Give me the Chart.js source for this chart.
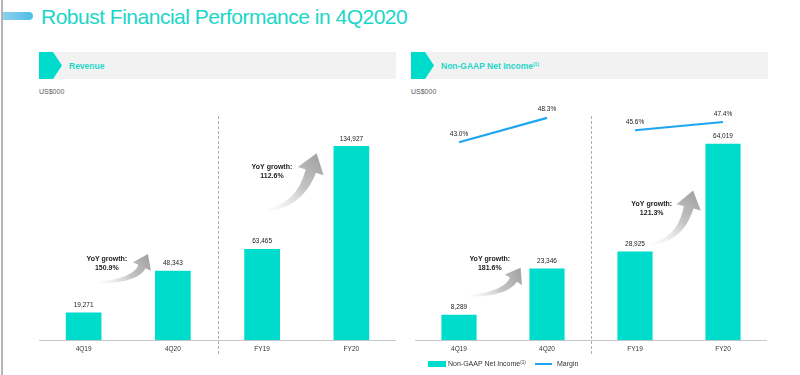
<!DOCTYPE html>
<html>
<head>
<meta charset="utf-8">
<script src="https://cdn.jsdelivr.net/npm/chart.js@4.4.1/dist/chart.umd.min.js"></script>
<style>
  body { margin: 0; width: 800px; height: 375px; background: #fff; overflow: hidden; position: relative;
         font-family: Arial, "Liberation Sans", sans-serif; }
  .abs { position: absolute; }
  .edge { left: 1px; top: 0; width: 2px; height: 375px; background: #b4b4b4; }
  .accent { left: 3px; top: 12px; width: 30px; height: 8px; border-radius: 0 4px 4px 0;
            background: linear-gradient(90deg, #8ed0ef, #4dbde9); }
  .title { left: 41px; top: 6px; font-size: 21px; letter-spacing: -0.5px; line-height: 1; color: #1bd6c8; white-space: nowrap; }
  .band { top: 52px; height: 27px; background: #f2f2f2; }
  .chev { top: 52px; width: 23px; height: 27px; background: #00dccb;
          clip-path: polygon(0 0, 61% 0, 100% 50%, 61% 100%, 0 100%); }
  .head { top: 62px; font-size: 8.5px; line-height: 1; font-weight: bold; color: #1fd6c8; white-space: nowrap; }
  .head sup { font-size: 5px; vertical-align: 3px; }
  .unit { top: 88px; font-size: 7px; line-height: 1; color: #595959; }
  .legend { top: 360px; font-size: 7px; line-height: 1; color: #333; white-space: nowrap; }
  .legend sup { font-size: 4.5px; vertical-align: 2px; }
  canvas { position: absolute; }
</style>
</head>
<body>
<div class="abs edge"></div>
<div class="abs accent"></div>
<div class="abs title">Robust Financial Performance in 4Q2020</div>

<div class="abs band" style="left:39px;width:357px"></div>
<div class="abs chev" style="left:39px"></div>
<div class="abs head" style="left:69px">Revenue</div>
<div class="abs unit" style="left:39px">US$000</div>

<div class="abs band" style="left:411px;width:357px"></div>
<div class="abs chev" style="left:411px"></div>
<div class="abs head" style="left:441px">Non-GAAP Net Income<sup>(1)</sup></div>
<div class="abs unit" style="left:411px">US$000</div>

<canvas id="revenueChart" width="357" height="275" style="left:39px;top:100px"></canvas>
<canvas id="incomeChart" width="352" height="275" style="left:415px;top:100px"></canvas>

<div class="abs" style="left:428px;top:361px;width:18px;height:6px;background:#00dccb"></div>
<div class="abs legend" style="left:448px">Non-GAAP Net Income<sup>(1)</sup></div>
<div class="abs" style="left:535px;top:363px;width:17px;height:2px;background:#1ea5f2"></div>
<div class="abs legend" style="left:557px">Margin</div>

<script>
// data
const categories = ["4Q19", "4Q20", "FY19", "FY20"];
const revenue = [19271, 48343, 63465, 134927];
const netIncome = [8289, 23346, 28925, 64019];
const margin = [43.0, 48.3, 45.6, 47.4];
const revenueGrowth = ["150.9%", "112.6%"];
const incomeGrowth = ["181.6%", "121.3%"];

const teal = "#00dccb";
const blue = "#1ea5f2";
Chart.defaults.font.family = 'Arial, "Liberation Sans", sans-serif';

// growth arrows, in (category index, value) units: tail, bend, tip, text anchor
const revenueArrows = [
    { tail: [0.16, 40000], bend: [0.58, 41500], tip: [0.72, 60000], text: [0.26, 56500], size: 1, label: revenueGrowth[0] },
    { tail: [2.03, 90000], bend: [2.42, 93500], tip: [2.61, 130000], text: [2.11, 120000], size: 1.35, label: revenueGrowth[1] },
];
const incomeArrows = [
    { tail: [0.10, 14400], bend: [0.52, 15000], tip: [0.70, 23600], text: [0.35, 26500], size: 1, label: incomeGrowth[0] },
    { tail: [2.17, 31400], bend: [2.51, 32400], tip: [2.66, 48800], text: [2.19, 44500], size: 1.25, label: incomeGrowth[1] },
];

function pt(chart, a) {
    const x = chart.scales.x;
    const x0 = x.getPixelForValue(0), x1 = x.getPixelForValue(1);
    return { x: x0 + (x1 - x0) * a[0], y: chart.scales.y.getPixelForValue(a[1]) };
}

function drawArrow(ctx, t, c, p, k) {
    const headLen = 14 * k, headHalf = 10 * k, w0 = 0.8, w1 = 4 * k;
    const dx = p.x - c.x, dy = p.y - c.y, d = Math.hypot(dx, dy);
    const ux = dx / d, uy = dy / d;
    const h = { x: p.x - ux * headLen, y: p.y - uy * headLen };
    const left = [], right = [];
    const n = 30;
    for (let i = 0; i <= n; i++) {
        const s = i / n;
        const x = (1 - s) * (1 - s) * t.x + 2 * (1 - s) * s * c.x + s * s * h.x;
        const y = (1 - s) * (1 - s) * t.y + 2 * (1 - s) * s * c.y + s * s * h.y;
        const tx = 2 * (1 - s) * (c.x - t.x) + 2 * s * (h.x - c.x);
        const ty = 2 * (1 - s) * (c.y - t.y) + 2 * s * (h.y - c.y);
        const tl = Math.hypot(tx, ty);
        const nx = -ty / tl, ny = tx / tl;
        const w = w0 + (w1 - w0) * s;
        left.push([x + nx * w, y + ny * w]);
        right.push([x - nx * w, y - ny * w]);
    }
    const g = ctx.createLinearGradient(t.x, t.y, p.x, p.y);
    g.addColorStop(0, "rgba(240,240,240,0.2)");
    g.addColorStop(0.55, "#c4c4c4");
    g.addColorStop(1, "#a2a2a2");
    ctx.beginPath();
    ctx.moveTo(left[0][0], left[0][1]);
    left.forEach(q => ctx.lineTo(q[0], q[1]));
    ctx.lineTo(h.x - uy * headHalf, h.y + ux * headHalf);
    ctx.lineTo(p.x, p.y);
    ctx.lineTo(h.x + uy * headHalf, h.y - ux * headHalf);
    right.slice().reverse().forEach(q => ctx.lineTo(q[0], q[1]));
    ctx.closePath();
    ctx.fillStyle = g;
    ctx.fill();
}

const slidePlugin = {
    id: "slide",
    afterDatasetsDraw(chart, args, opts) {
        const ctx = chart.ctx;
        const xs = chart.scales.x;
        ctx.save();
        // dashed divider between quarter and full-year
        const dx = Math.round((xs.getPixelForValue(1) + xs.getPixelForValue(2)) / 2) + 0.5;
        ctx.strokeStyle = "#b0b0b0";
        ctx.lineWidth = 1;
        ctx.setLineDash([3, 2]);
        ctx.beginPath();
        ctx.moveTo(dx, 16);
        ctx.lineTo(dx, 254);
        ctx.stroke();
        ctx.setLineDash([]);

        // value labels
        ctx.fillStyle = "#222";
        ctx.textAlign = "center";
        ctx.font = '6.5px Arial, "Liberation Sans", sans-serif';
        ctx.textBaseline = "bottom";
        chart.data.datasets.forEach((ds, i) => {
            const meta = chart.getDatasetMeta(i);
            meta.data.forEach((el, j) => {
                const v = ds.data[j];
                if (ds.type === "line") {
                    ctx.fillText(v.toFixed(1) + "%", el.x, el.y - 5);
                } else {
                    ctx.fillText(v.toLocaleString("en-US"), el.x, el.y - 4);
                }
            });
        });

        // growth arrows
        opts.arrows.forEach(a => {
            drawArrow(ctx, pt(chart, a.tail), pt(chart, a.bend), pt(chart, a.tip), a.size);
            const tp = pt(chart, a.text);
            ctx.fillStyle = "#222";
            ctx.font = 'bold 7px Arial, "Liberation Sans", sans-serif';
            ctx.textBaseline = "middle";
            ctx.fillText("YoY growth:", tp.x, tp.y);
            ctx.fillText(a.label, tp.x, tp.y + 9);
        });
        ctx.restore();
    },
};

const xScale = {
    grid: { display: false, drawTicks: false },
    border: { display: true, color: "#c8c8c8", width: 1 },
    ticks: { color: "#333", font: { size: 6.5 }, padding: 5 },
};

new Chart(document.getElementById("revenueChart"), {
    type: "bar",
    data: {
        labels: categories,
        datasets: [
            { label: "Revenue", data: revenue, backgroundColor: teal, categoryPercentage: 1, barPercentage: 0.4 },
        ],
    },
    options: {
        responsive: false,
        animation: false,
        layout: { padding: { top: 10, bottom: 17, left: 0, right: 0 } },
        scales: {
            x: xScale,
            y: { display: false, min: 0, max: 160000 },
        },
        plugins: {
            legend: { display: false },
            tooltip: { enabled: false },
            slide: { arrows: revenueArrows },
        },
    },
    plugins: [slidePlugin],
});

new Chart(document.getElementById("incomeChart"), {
    type: "bar",
    data: {
        labels: categories,
        datasets: [
            {
                type: "line", label: "Margin", data: margin, yAxisID: "y2",
                borderColor: blue, borderWidth: 2.2, pointRadius: 0,
                segment: { borderColor: c => (c.p0DataIndex === 1 ? "transparent" : blue) },
            },
            {
                type: "bar", label: "Non-GAAP Net Income", data: netIncome, backgroundColor: teal,
                categoryPercentage: 1, barPercentage: 0.4,
            },
        ],
    },
    options: {
        responsive: false,
        animation: false,
        layout: { padding: { top: 10, bottom: 17, left: 0, right: 0 } },
        scales: {
            x: xScale,
            y: { display: false, min: 0, max: 75000 },
            y2: { display: false, min: 0, max: 50 },
        },
        plugins: {
            legend: { display: false },
            tooltip: { enabled: false },
            slide: { arrows: incomeArrows },
        },
    },
    plugins: [slidePlugin],
});
</script>
</body>
</html>
